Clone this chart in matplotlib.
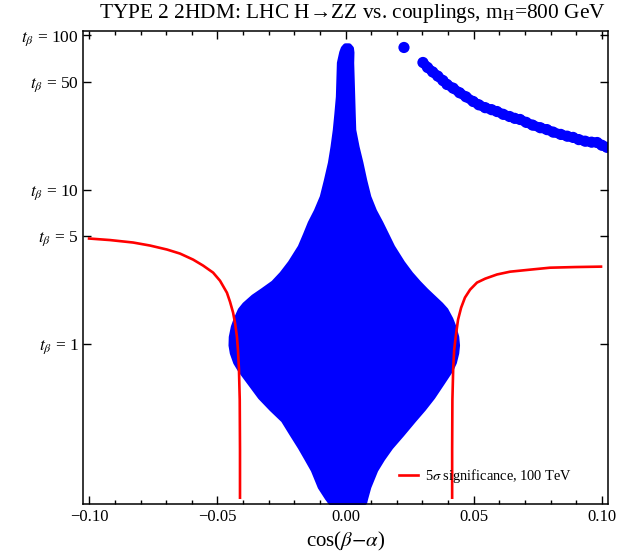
import numpy as np
import matplotlib
matplotlib.use('Agg')
import matplotlib.pyplot as plt
from matplotlib.ticker import FixedLocator, MultipleLocator, NullLocator

plt.rcParams['font.family'] = ['Liberation Serif', 'DejaVu Serif']
plt.rcParams['mathtext.fontset'] = 'stix'

# central allowed region (edges of the blue cloud), tan(beta) vs cos(beta-alpha)
blob_tb = [86.0, 83.0, 78.0, 66.8, 52.0, 40.2, 31.0, 24.5, 19.0, 15.0, 11.5, 9.0,
           7.3, 6.1, 5.1, 4.26, 3.36, 2.85, 2.49, 2.22, 2.02, 1.80, 1.66, 1.45,
           1.29, 1.11, 0.98, 0.874, 0.76, 0.678, 0.56, 0.453, 0.38, 0.321, 0.26,
           0.214, 0.18, 0.152, 0.118, 0.100, 0.094]
blob_left = [-0.0002, -0.0010, -0.0016, -0.0025, -0.0027, -0.0029, -0.0035, -0.0041,
             -0.0050, -0.0060, -0.0076, -0.0092, -0.0115, -0.0139, -0.0158, -0.0178,
             -0.0217, -0.0250, -0.0283, -0.0325, -0.0361, -0.0395, -0.0412, -0.0428,
             -0.0439, -0.0447, -0.0448, -0.0443, -0.0430, -0.0412, -0.0375, -0.0334,
             -0.0290, -0.0244, -0.0210, -0.0178, -0.0152, -0.0127, -0.0100, -0.0072,
             -0.0060]
blob_right = [0.0012, 0.0020, 0.0022, 0.0021, 0.0023, 0.0025, 0.0027, 0.0029,
              0.0042, 0.0057, 0.0072, 0.0088, 0.0110, 0.0135, 0.0158, 0.0181,
              0.0220, 0.0252, 0.0283, 0.0312, 0.0338, 0.0370, 0.0389, 0.0408,
              0.0420, 0.0431, 0.0434, 0.0431, 0.0422, 0.0408, 0.0375, 0.0338,
              0.0302, 0.0264, 0.0218, 0.0174, 0.0142, 0.0115, 0.0088, 0.0076,
              0.0072]

# upper-right branch of allowed points
arc_cos = [0.0228, 0.0302, 0.0320, 0.0340, 0.0360, 0.0380, 0.0396, 0.0420, 0.0445,
           0.0470, 0.0498, 0.0520, 0.0545, 0.0570, 0.0591, 0.0615, 0.0640, 0.0660,
           0.0681, 0.0705, 0.0730, 0.0760, 0.0786, 0.0810, 0.0840, 0.0865, 0.0888,
           0.0910, 0.0935, 0.0960, 0.0982, 0.1000, 0.1020]
arc_tb = [83.6, 66.8, 62.0, 58.0, 54.5, 51.0, 48.1, 45.5, 42.5, 40.0, 37.3, 35.5,
          34.0, 33.0, 32.1, 30.8, 29.8, 29.0, 28.5, 27.3, 26.2, 25.2, 24.5, 23.6,
          22.8, 22.2, 21.8, 21.1, 20.6, 20.3, 20.2, 19.4, 18.8]

# 5 sigma contours, 100 TeV
left_cos = [-0.1001, -0.0919, -0.0829, -0.0763, -0.0697, -0.0646, -0.0595, -0.0556,
            -0.0517, -0.0490, -0.0463, -0.0451, -0.0439, -0.0431, -0.0424, -0.0420,
            -0.0416, -0.0413, -0.0412, -0.0412]
left_tb = [4.81, 4.70, 4.53, 4.33, 4.08, 3.84, 3.51, 3.21, 2.89, 2.56, 2.14, 1.87,
           1.59, 1.35, 1.11, 0.914, 0.678, 0.433, 0.205, 0.100]
right_cos = [0.0416, 0.0416, 0.0417, 0.0420, 0.0424, 0.0431, 0.0439, 0.0451, 0.0466,
             0.0486, 0.0513, 0.0545, 0.0591, 0.0642, 0.0720, 0.0798, 0.0896, 0.0997]
right_tb = [0.100, 0.205, 0.433, 0.678, 0.914, 1.144, 1.43, 1.71, 1.99, 2.24, 2.49,
            2.64, 2.81, 2.93, 3.02, 3.11, 3.14, 3.16]

x_ticks = [-0.10, -0.05, 0.00, 0.05, 0.10]
x_labels = ['\u22120.10', '\u22120.05', '0.00', '0.05', '0.10']
y_ticks = [1, 5, 10, 50, 100]

blue = '#0000ff'
red = '#ff0000'

fig = plt.figure(figsize=(6.23, 5.57), dpi=100)
ax = fig.add_axes([0.1327, 0.0952, 0.8427, 0.8492])

ax.fill_betweenx(blob_tb, blob_left, blob_right, color=blue, lw=4, edgecolor=blue,
                 joinstyle='round', zorder=2)
ax.plot(arc_cos[1:], arc_tb[1:], color=blue, lw=7, solid_capstyle='round', zorder=2)
ax.scatter(arc_cos, arc_tb, s=65, color=blue, edgecolors='none', zorder=2)

ax.plot(left_cos, left_tb, color=red, lw=1.9, zorder=3,
        label=r'5$\sigma$ significance, 100 TeV')
ax.plot(right_cos, right_tb, color=red, lw=1.9, zorder=3)

ax.set_yscale('log')
ax.set_xlim(-0.1026, 0.1023)
ax.set_ylim(0.091, 107)

ax.xaxis.set_major_locator(FixedLocator(x_ticks))
ax.xaxis.set_minor_locator(MultipleLocator(0.01))
ax.set_xticklabels(x_labels, fontsize=12)
ax.yaxis.set_major_locator(FixedLocator(y_ticks))
ax.yaxis.set_minor_locator(NullLocator())
ax.set_yticklabels([r'$t_\beta$ = %d' % v for v in y_ticks], fontsize=12.5)

ax.tick_params(which='both', direction='in', top=True, right=True, width=1)
ax.tick_params(which='major', length=6)
ax.tick_params(which='minor', length=3)
ax.tick_params(axis='y', pad=3)
for s in ax.spines.values():
    s.set_linewidth(1.1)

ax.set_xlabel(r'cos($\beta$$-$$\alpha$)', fontsize=15, labelpad=4)
fig.text(0.566, 0.975, 'TYPE 2 2HDM: LHC H\u2192ZZ vs. couplings, m$_\\mathrm{H}$=800 GeV',
         ha='center', va='center', fontsize=15.4)

ax.legend(loc='center left', bbox_to_anchor=(0.602, 0.059), frameon=False,
          borderpad=0, borderaxespad=0, handlelength=1.3, handletextpad=0.5,
          fontsize=10.4)

fig.savefig('out.png', dpi=100)
